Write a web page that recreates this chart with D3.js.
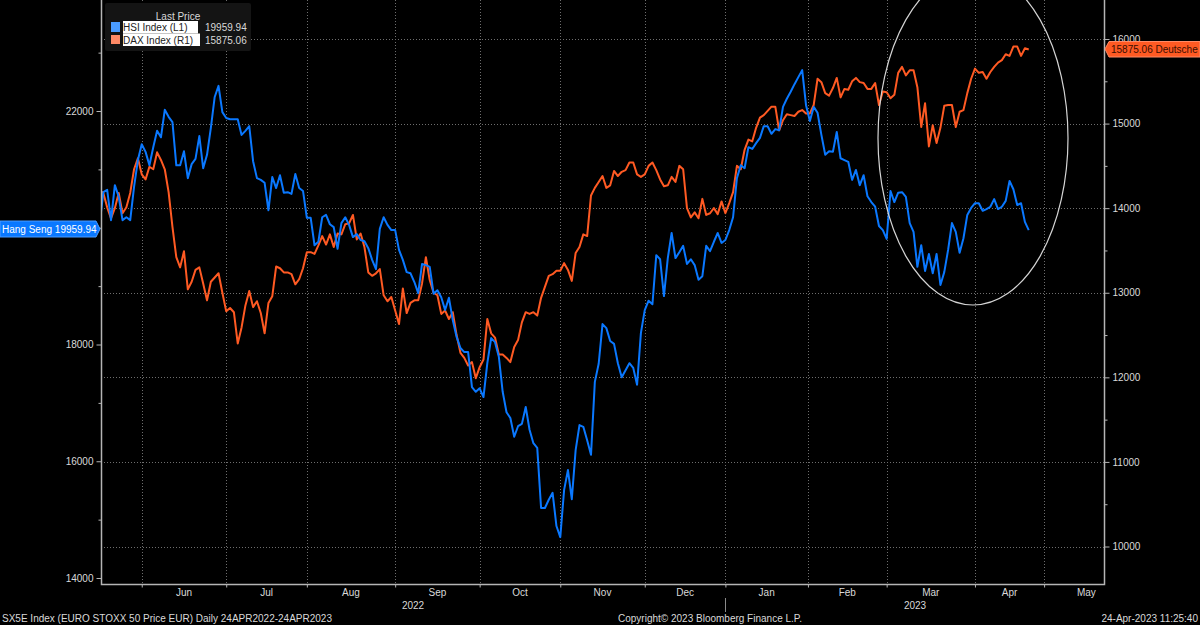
<!DOCTYPE html>
<html>
<head>
<meta charset="utf-8">
<script src="https://cdn.jsdelivr.net/npm/d3@7"></script>
<style>
  html, body { margin: 0; padding: 0; background: #000; }
  svg { display: block; }
  text { font-family: "Liberation Sans", Arial, sans-serif; font-size: 10px; fill: #d9d9d9; }
  .grid { stroke: #6e6e6e; stroke-width: 1; stroke-dasharray: 1 2; }
  .axis path, .axis line { stroke: #b5b5b5; }
</style>
</head>
<body>
<svg width="1200" height="625"></svg>
<script>
// one value per session
var hsiValues = [
  20050,20610,20650,20130,20730,20530,20130,20180,20130,20700,
  21160,21430,21300,21070,21380,21660,21550,22020,21900,21810,
  21070,21070,21310,20850,21090,21180,21570,21020,21250,21710,
  22240,22430,21980,21880,21860,21860,21860,21590,21660,21740,
  21140,20850,20820,20770,20300,20870,20680,20900,20600,20610,
  20580,20920,20680,20630,20170,20170,19700,19760,20180,20220,
  20060,20010,19640,20080,20180,20050,19840,19890,19790,19770,
  19650,19450,19290,19980,20180,20050,19960,19960,19620,19450,
  19240,19220,19070,18880,19380,19360,19330,18870,18930,18810,
  18590,18800,18420,18130,17940,17870,17870,17270,17190,17250,
  17100,17680,18110,18040,17790,17190,16840,16740,16420,16600,
  16640,16930,16540,16310,16230,15200,15200,15340,15460,14890,
  14700,15510,15850,15350,16190,16620,16590,16360,16110,17360,
  17670,18350,18280,18060,18010,17680,17440,17560,17680,17600,
  17310,18200,18590,18750,18690,19530,19460,18830,19480,19910,
  19480,19580,19690,19380,19460,19360,19110,19170,19690,19600,
  19760,19910,19740,19790,19960,20180,20850,21070,21020,21380,
  21350,21450,21540,21740,21740,21610,21690,21670,22070,22210,
  22330,22460,22580,22700,22100,21830,22070,21970,21590,21250,
  21310,21300,21640,21190,21160,21130,20820,20990,20730,20900,
  20540,20440,20360,20030,19960,19810,20630,20440,20600,20610,
  20530,20080,19930,19330,19700,19260,19550,19220,19550,19020,
  19240,19620,20080,19930,19570,19820,20220,20340,20420,20420,
  20290,20320,20360,20490,20320,20360,20460,20800,20660,20390,
  20420,20100,19959.94
];
var daxValues = [
  14210,14180,14010,13880,14000,14180,13940,14010,14180,14460,
  14590,14400,14340,14490,14460,14660,14570,14460,14190,13780,
  13420,13300,13490,13040,13130,13270,13300,13110,12910,13130,
  13180,13230,13000,12780,12820,12770,12400,12590,12850,13020,
  12830,12900,12760,12520,12880,12960,13310,13290,13240,13240,
  13220,13100,13160,13290,13480,13480,13460,13560,13670,13570,
  13690,13540,13700,13690,13810,13820,13920,13630,13700,13540,
  13240,13200,13230,13280,12970,12900,12950,12790,12630,13050,
  12760,12880,12910,12910,13110,13420,13150,13000,12970,12750,
  12790,12690,12770,12500,12290,12230,12140,12180,11990,12120,
  12210,12690,12520,12470,12270,12270,12230,12180,12360,12440,
  12650,12770,12750,12770,12730,12940,13070,13200,13220,13260,
  13260,13350,13270,13140,13470,13540,13690,13670,14150,14240,
  14310,14380,14240,14270,14440,14380,14430,14450,14540,14540,
  14400,14370,14400,14500,14540,14450,14340,14260,14270,14370,
  14310,14500,14460,14000,13890,13950,13880,14110,13920,13940,
  14000,13930,14080,13940,14060,14190,14500,14460,14690,14810,
  14790,14950,15070,15100,15150,15200,15200,14920,15040,15110,
  15100,15090,15140,15160,15120,15120,15220,15530,15490,15360,
  15330,15420,15540,15310,15410,15400,15500,15540,15490,15480,
  15410,15410,15480,15220,15380,15370,15300,15340,15600,15670,
  15570,15630,15630,15430,14960,15240,14730,14980,14770,14950,
  15210,15220,15220,14960,15140,15160,15360,15530,15650,15600,
  15610,15530,15610,15670,15720,15750,15820,15800,15910,15910,
  15800,15890,15875.06
];
var monthLabels = ['Jun','Jul','Aug','Sep','Oct','Nov','Dec','Jan','Feb','Mar','Apr','May'];
var monthTicks = [11,33,54,77,99,120,142,163,184.5,205,228,246];
var leftTicks = [22000,18000,16000,14000];
var leftMinorTicks = [23000,21000,20000,19000,17000,15000];
var rightTicks = [16000,15000,14000,13000,12000,11000,10000];
var rightMinorTicks = [15500,14500,13500,12500,11500,10500];

var svg = d3.select('svg');
var left = 101, right = 1104, top_ = 0, bottom = 584;

var x = d3.scaleLinear().domain([0, 261.6]).range([99.5, right]);
var yLeft = d3.scaleLinear().domain([14000, 22000]).range([578, 111]);
var yRight = d3.scaleLinear().domain([10000, 16000]).range([546.5, 39]);

svg.append('defs').append('clipPath').attr('id', 'plot')
  .append('rect').attr('x', left).attr('y', top_).attr('width', right - left).attr('height', bottom - top_);

// grid
svg.selectAll('.hgrid').data(rightTicks).enter().append('line')
  .attr('class', 'grid hgrid')
  .attr('x1', left).attr('x2', right)
  .attr('y1', function(d) { return Math.round(yRight(d)) + 0.5; })
  .attr('y2', function(d) { return Math.round(yRight(d)) + 0.5; });

svg.selectAll('.vgrid').data(monthTicks).enter().append('line')
  .attr('class', 'grid vgrid')
  .attr('y1', top_).attr('y2', bottom)
  .attr('x1', function(d) { return Math.round(x(d)) + 0.5; })
  .attr('x2', function(d) { return Math.round(x(d)) + 0.5; });

// series
function drawLine(values, y, colour) {
  var line = d3.line()
    .x(function(d, i) { return x(i); })
    .y(function(d) { return y(d); });
  svg.append('path')
    .datum(values)
    .attr('clip-path', 'url(#plot)')
    .attr('d', line)
    .attr('fill', 'none')
    .attr('stroke', colour)
    .attr('stroke-width', 2)
    .attr('stroke-linejoin', 'round');
}
drawLine(daxValues, yRight, '#ff5a23');
drawLine(hsiValues, yLeft, '#0a78ff');

// axes
var leftAxis = svg.append('g').attr('class', 'axis')
  .attr('transform', 'translate(' + (left + 0.5) + ',0)')
  .call(d3.axisLeft(yLeft).tickValues(leftTicks).tickFormat(d3.format('d')).tickSize(5).tickPadding(3));
var leftMinor = svg.append('g').attr('class', 'axis')
  .attr('transform', 'translate(' + (left + 0.5) + ',0)')
  .call(d3.axisLeft(yLeft).tickValues(leftMinorTicks).tickFormat('').tickSize(3));
var rightAxis = svg.append('g').attr('class', 'axis')
  .attr('transform', 'translate(' + (right + 0.5) + ',0)')
  .call(d3.axisRight(yRight).tickValues(rightTicks).tickFormat(d3.format('d')).tickSize(5).tickPadding(3));
var rightMinor = svg.append('g').attr('class', 'axis')
  .attr('transform', 'translate(' + (right + 0.5) + ',0)')
  .call(d3.axisRight(yRight).tickValues(rightMinorTicks).tickFormat('').tickSize(3));
var bottomAxis = svg.append('g').attr('class', 'axis')
  .attr('transform', 'translate(0,' + (bottom + 0.5) + ')')
  .call(d3.axisBottom(x).tickValues(monthTicks).tickFormat('').tickSize(3));

[leftAxis, leftMinor, rightAxis, rightMinor, bottomAxis].forEach(function(g) {
  g.select('.domain').remove();
  g.selectAll('text').style('font-size', '10px').style('font-family', null);
  g.selectAll('line').attr('stroke', '#d0d0d0');
});

svg.append('path')
  .attr('d', 'M' + (left + 0.5) + ',0V' + (bottom + 0.5) + 'H' + (right + 0.5) + 'V0')
  .attr('fill', 'none').attr('stroke', '#b5b5b5').attr('stroke-width', 1.5);

// month labels sit between the ticks
svg.selectAll('.month').data(monthLabels).enter().append('text')
  .attr('class', 'month')
  .attr('text-anchor', 'middle')
  .attr('y', 596)
  .attr('x', function(d, i) {
    var from = monthTicks[i];
    var to = i < monthTicks.length - 1 ? monthTicks[i + 1] : from + 22;
    return x((from + to) / 2);
  })
  .text(function(d) { return d; });

svg.append('text').attr('x', 413).attr('y', 609).attr('text-anchor', 'middle').text('2022');
svg.append('text').attr('x', 915).attr('y', 609).attr('text-anchor', 'middle').text('2023');
svg.append('line').attr('x1', 725.5).attr('x2', 725.5).attr('y1', 598).attr('y2', 612).attr('stroke', '#8a8a8a');

svg.append('text').attr('x', 2).attr('y', 622).text('SX5E Index (EURO STOXX 50 Price EUR)  Daily 24APR2022-24APR2023');
svg.append('text').attr('x', 710).attr('y', 622).attr('text-anchor', 'middle').text('Copyright\u00A9 2023 Bloomberg Finance L.P.');
svg.append('text').attr('x', 1198).attr('y', 622).attr('text-anchor', 'end').text('24-Apr-2023 11:25:40');

// circle drawn over the last few months
svg.append('ellipse')
  .attr('cx', 973).attr('cy', 138).attr('rx', 95).attr('ry', 167)
  .attr('fill', 'none').attr('stroke', '#d4d4d4').attr('stroke-width', 1.2);

// legend
var legend = svg.append('g');
legend.append('rect').attr('x', 105).attr('y', 3).attr('width', 146).attr('height', 48).attr('rx', 2).attr('fill', '#141414');
legend.append('text').attr('x', 178).attr('y', 20).attr('text-anchor', 'middle').text('Last Price');
legend.append('rect').attr('x', 111).attr('y', 22).attr('width', 9).attr('height', 10).attr('fill', '#4a9bff');
legend.append('rect').attr('x', 111).attr('y', 35).attr('width', 9).attr('height', 9).attr('fill', '#ff8a66');
legend.append('rect').attr('x', 123).attr('y', 21).attr('width', 75).attr('height', 12.5).attr('fill', '#fff');
legend.append('rect').attr('x', 123).attr('y', 33.5).attr('width', 77).attr('height', 12.5).attr('fill', '#fff');
legend.append('text').attr('x', 123).attr('y', 31).style('fill', '#222').text('HSI Index  (L1)');
legend.append('text').attr('x', 123).attr('y', 44).style('fill', '#222').text('DAX Index  (R1)');
legend.append('text').attr('x', 205).attr('y', 31).text('19959.94');
legend.append('text').attr('x', 205).attr('y', 44).text('15875.06');

// last price tags
svg.append('path')
  .attr('d', 'M0,221H96L100,229L96,237H0Z')
  .attr('fill', '#0a78ff').attr('stroke', '#4a9bff');
svg.append('text').attr('x', 2).attr('y', 233).style('fill', '#fff').text('Hang Seng 19959.94');

svg.append('path')
  .attr('d', 'M1200,41.5H1109L1105,49L1109,57H1200Z')
  .attr('fill', '#ff5a23').attr('stroke', '#ff8a66');
svg.append('text').attr('x', 1111).attr('y', 53).style('fill', '#3a0d00').text('15875.06 Deutsche');
</script>
</body>
</html>
